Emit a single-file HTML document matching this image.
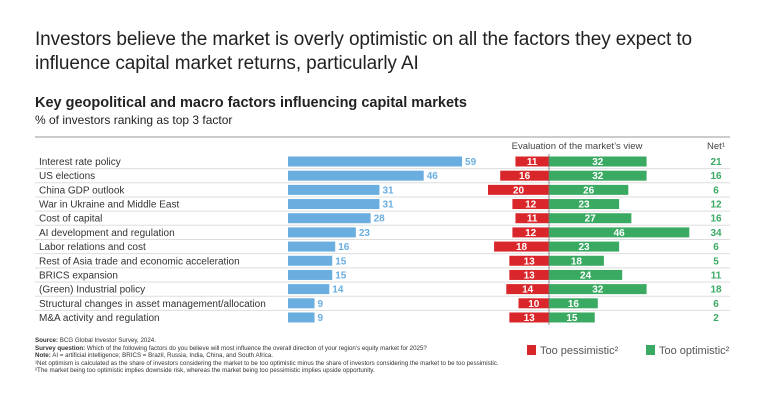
<!DOCTYPE html>
<html><head><meta charset="utf-8"><style>
body{margin:0;width:768px;height:402px;background:#fff;font-family:"Liberation Sans",sans-serif;color:#222;overflow:hidden;position:relative}
.t{position:absolute;white-space:nowrap}
</style></head><body>
<div class="t" style="left:35px;top:28px;font-size:19px;line-height:24px;color:#222;letter-spacing:-0.1px">Investors believe the market is overly optimistic on all the factors they expect to<br>influence capital market returns, particularly AI</div>
<div class="t" style="left:35px;top:95px;font-size:14.5px;font-weight:bold">Key geopolitical and macro factors influencing capital markets</div>
<div class="t" style="left:35px;top:113px;font-size:12px">% of investors ranking as top 3 factor</div>
<svg id="chart" width="768" height="402" style="position:absolute;left:0;top:0"></svg>
<div class="t" style="left:35px;top:337px;font-size:6.2px;line-height:7.6px;color:#333"><b>Source:</b> BCG Global Investor Survey, 2024.<br><b>Survey question:</b> Which of the following factors do you believe will most influence the overall direction of your region's equity market for 2025?<br><b>Note:</b> AI = artificial intelligence; BRICS = Brazil, Russia, India, China, and South Africa.<br>¹Net optimism is calculated as the share of investors considering the market to be too optimistic minus the share of investors considering the market to be too pessimistic.<br>²The market being too optimistic implies downside risk, whereas the market being too pessimistic implies upside opportunity.</div>
<div class="t" style="left:527px;top:345px;font-size:11px;color:#555"><span style="display:inline-block;width:9px;height:10px;background:#d8262b;vertical-align:-1px;margin-right:4px"></span>Too pessimistic²</div>
<div class="t" style="left:646px;top:345px;font-size:11px;color:#555"><span style="display:inline-block;width:9px;height:10px;background:#3aaa63;vertical-align:-1px;margin-right:4px"></span>Too optimistic²</div>
<script>
const categories=["Interest rate policy","US elections","China GDP outlook","War in Ukraine and Middle East","Cost of capital","AI development and regulation","Labor relations and cost","Rest of Asia trade and economic acceleration","BRICS expansion","(Green) Industrial policy","Structural changes in asset management/allocation","M&A activity and regulation"];
const topShare=[59,46,31,31,28,23,16,15,15,14,9,9];
const pessimistic=[11,16,20,12,11,12,18,13,13,14,10,13];
const optimistic=[32,32,26,23,27,46,23,18,24,32,16,15];
const net=[21,16,6,12,16,34,6,5,11,18,6,2];
const svg=document.getElementById('chart');const NS='http://www.w3.org/2000/svg';
function mk(t,a,txt){const e=document.createElementNS(NS,t);for(const k in a)e.setAttribute(k,a[k]);if(txt!==undefined)e.textContent=txt;svg.appendChild(e);return e;}
const y0=161.5,dy=14.18,bh=10;
const xBlue=v=>288+v*2.95;const cx=549;const s=3.05;
let e=mk('line',{x1:35,x2:730,y1:137,y2:137,stroke:'#999','stroke-width':1});

e=mk('text',{x:577,y:149,'font-size':9.5,'text-anchor':'middle',fill:'#444'},"Evaluation of the market’s view");

e=mk('text',{x:716,y:149,'font-size':9.5,'text-anchor':'middle',fill:'#444'},"Net¹");

categories.forEach((c,i)=>{const y=y0+i*dy;
 if(i<categories.length-1){e=mk('line',{x1:35,x2:730,y1:y+dy/2,y2:y+dy/2,stroke:'#ddd','stroke-width':1});}
 e=mk('text',{x:39,y:y+3.5,'font-size':10,fill:'#333'},c);
 e=mk('rect',{x:288,y:y-bh/2,width:xBlue(topShare[i])-288,height:bh,fill:'#6aaee0'});
 e=mk('text',{x:xBlue(topShare[i])+3,y:y+3.5,'font-size':10,'font-weight':'bold',fill:'#6aaee0'},topShare[i]);
 const pw=pessimistic[i]*s;
 e=mk('rect',{x:cx-pw,y:y-bh/2,width:pw,height:bh,fill:'#d8262b'});
 e=mk('text',{x:cx-pw/2,y:y+3.5,'font-size':10,'font-weight':'bold',fill:'#fff','text-anchor':'middle'},pessimistic[i]);
 const ow=optimistic[i]*s;
 e=mk('rect',{x:cx,y:y-bh/2,width:ow,height:bh,fill:'#3aaa63'});
 e=mk('text',{x:cx+ow/2,y:y+3.5,'font-size':10,'font-weight':'bold',fill:'#fff','text-anchor':'middle'},optimistic[i]);
 e=mk('text',{x:716,y:y+3.5,'font-size':10,'font-weight':'bold',fill:'#3aaa63','text-anchor':'middle'},net[i]);
});
e=mk('line',{x1:cx,x2:cx,y1:154,y2:325,stroke:'#777','stroke-width':0.8});
</script>
</body></html>
